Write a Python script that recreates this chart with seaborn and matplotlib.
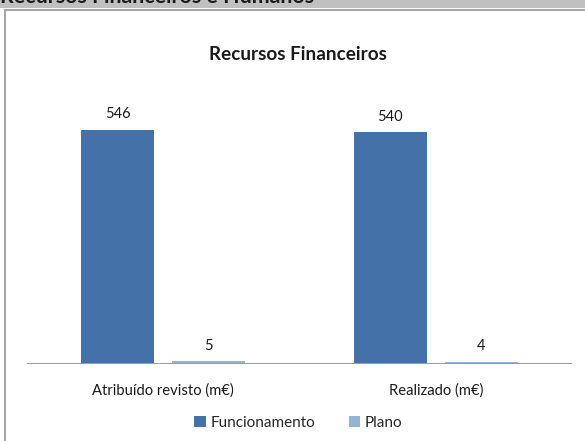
import matplotlib
matplotlib.use("Agg")
import matplotlib.pyplot as plt
import pandas as pd
import seaborn as sns
from matplotlib.patches import Rectangle, Patch

# --- data ---
categories = ["Atribuído revisto (m€)", "Realizado (m€)"]
series = ["Funcionamento", "Plano"]
funcionamento = [546, 540]
plano = [5, 4]

COLORS = {"Funcionamento": "#4472A8", "Plano": "#95B3D7"}
FONT = ["Lato", "DejaVu Sans"]

df = pd.DataFrame({
    "categoria": categories * 2,
    "serie": [series[0]] * 2 + [series[1]] * 2,
    "valor": funcionamento + plano,
})

sns.set_style("white")
plt.rcParams["font.family"] = FONT

W, H = 585, 441
fig = plt.figure(figsize=(W / 100, H / 100), dpi=100)

# gray section header (partially clipped at the top)
fig.patches.append(Rectangle((0, 1 - 7.5 / H), 1, 7.5 / H, transform=fig.transFigure,
                             facecolor="#C0C0C0", edgecolor="none", zorder=-2))
fig.text(0, 1 - 3 / H, "Recursos Financeiros e Humanos", fontsize=15.4,
         fontweight="bold", color="#1a1a1a", va="baseline", ha="left", zorder=-1)
# chart frame
fig.patches.append(Rectangle((5 / W, -0.01), 1.0, 1 - 10 / H + 0.01,
                             transform=fig.transFigure, facecolor="white",
                             edgecolor="#A6A6A6", linewidth=1.5, zorder=-2))

ax = fig.add_axes([27 / W, 1 - 364 / H, (572 - 27) / W, (364 - 90) / H])
ax.set_facecolor("none")

sns.barplot(data=df, x="categoria", y="valor", hue="serie", order=categories,
            hue_order=series, palette=COLORS, width=0.668, gap=0.195,
            saturation=1, linewidth=0, ax=ax, legend=False)

for cont in ax.containers:
    ax.bar_label(cont, padding=6, fontsize=10.5, color="#1a1a1a")

ax.set_ylim(-1.5, 639)
ax.set_xlim(-0.5, 1.5)
ax.set_xlabel("")
ax.set_ylabel("")
ax.set_yticks([])
ax.tick_params(axis="x", length=0, pad=14, labelsize=10.6, labelcolor="#1a1a1a")
for side in ["left", "right", "top", "bottom"]:
    ax.spines[side].set_visible(False)
# category axis line, drawn under the bars
ax.axhline(-1.5, color="#888888", linewidth=1.2, zorder=0.5)

fig.text(0.51, 1 - 54 / H, "Recursos Financeiros", ha="center", va="center",
         fontsize=13.6, fontweight="bold", color="#1a1a1a")

handles = [Patch(facecolor=COLORS[s], edgecolor="none") for s in series]
fig.legend(handles, series, loc="center", bbox_to_anchor=(0.51, 1 - 423 / H),
           ncol=2, frameon=False, fontsize=11, handlelength=0.75, handleheight=0.75,
           handletextpad=0.3, columnspacing=2.2)

fig.savefig("out.png", dpi=100)
